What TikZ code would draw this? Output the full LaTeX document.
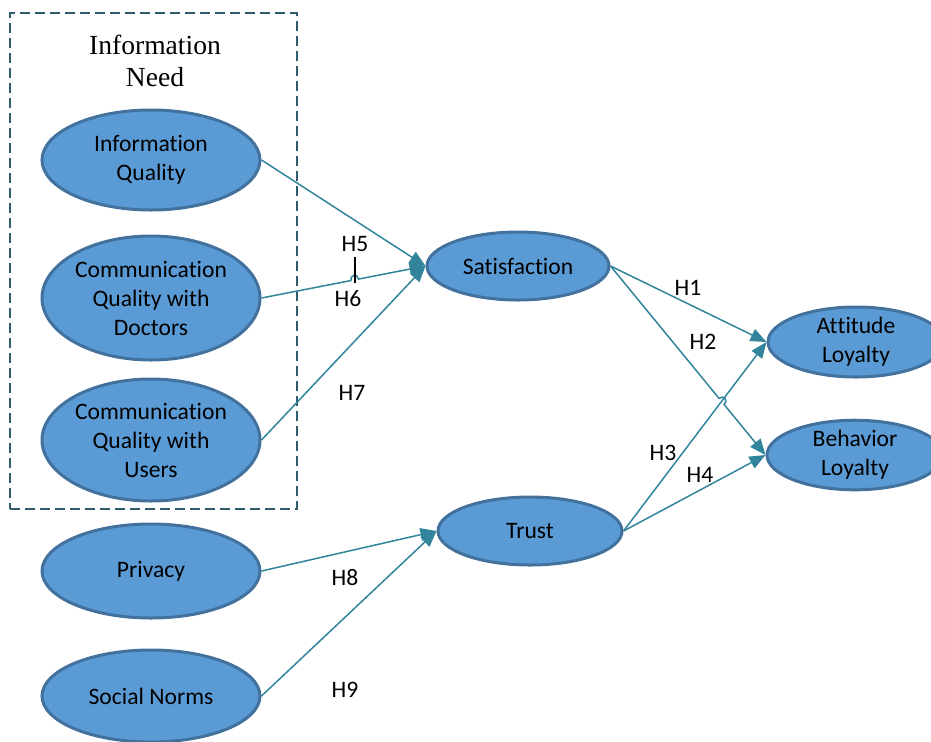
\documentclass[tikz,border=0pt]{standalone}
\usepackage{fontspec}
\setmainfont[RawFeature={-liga;-clig;-rlig;-calt;-dlig}]{Carlito}
\newfontfamily\titlefont{Liberation Serif}
\usetikzlibrary{shapes.geometric,arrows.meta,calc}
\definecolor{efill}{HTML}{5B9BD5}
\definecolor{edraw}{HTML}{41719C}
\definecolor{conn}{HTML}{31849B}
\definecolor{boxc}{HTML}{2F5B6B}
\newcommand{\nolig}{\kern0pt}
\begin{document}
\begin{tikzpicture}[x=0.5pt,y=-0.5pt,
  construct/.style={ellipse, draw=edraw, fill=efill, line width=1.5pt, inner sep=0pt, align=center,
    font=\fontsize{11.8}{14.5}\selectfont},
  hyp/.style={font=\fontsize{11.8}{13}\selectfont, inner sep=1pt},
  link/.style={draw=conn, line width=0.75pt, -{Triangle[length=8pt,width=6.5pt]}},
  tick/.style={draw=black, line width=0.75pt},
]
\useasboundingbox (0,0) rectangle (931,741);

% dashed group box and title
\node[draw=boxc, dash pattern=on 5pt off 2.5pt, line width=0.75pt,
      minimum width=143.5pt, minimum height=248pt, inner sep=0pt] (box) at (153.5,261) {};
\node[font=\titlefont\fontsize{13.8}{16}\selectfont, align=center] (title) at (155,61) {Information\\Need};

% constructs
\node[construct, minimum width=109pt, minimum height=50pt] (iq)  at (151,160) {Informat\nolig ion\\Quality};
\node[construct, minimum width=109pt, minimum height=62pt] (cqd) at (151,298) {Communicat\nolig ion\\Quality with\\Doctors};
\node[construct, minimum width=109pt, minimum height=61pt] (cqu) at (151,440) {Communicat\nolig ion\\Quality with\\Users};
\node[construct, minimum width=109pt, minimum height=47pt] (priv) at (151,571) {Privacy};
\node[construct, minimum width=109pt, minimum height=46pt] (soc) at (151,696) {Social Norms};
\node[construct, minimum width=91pt, minimum height=34pt] (sat) at (518,266) {Satisfact\nolig ion};
\node[construct, minimum width=92pt, minimum height=34pt] (trust) at (530,531) {Trust};
\node[construct, minimum width=88pt, minimum height=35pt] (att) at (856,342) {At\nolig t\nolig itude\\Loyalty};
\node[construct, minimum width=88pt, minimum height=34pt] (beh) at (855,455) {Behavior\\Loyalty};

% hop coordinates
\coordinate (h6a) at ($(cqd.east)!0.545!(sat.west)$);
\coordinate (h6b) at ($(cqd.east)!0.592!(sat.west)$);
\coordinate (h2a) at ($(sat.east)!0.700!(beh.west)$);
\coordinate (h2b) at ($(sat.east)!0.733!(beh.west)$);

% connectors
\draw[link] (iq.east) -- (sat.west);
\draw[link] (cqd.east) -- (h6a) .. controls ($(h6a)!3pt!90:(h6b)$) and ($(h6b)!3pt!-90:(h6a)$) .. (h6b) -- (sat.west);
\draw[link] (cqu.east) -- (sat.west);
\draw[link] (sat.east) -- (att.west);
\draw[link] (sat.east) -- (h2a) .. controls ($(h2a)!3pt!90:(h2b)$) and ($(h2b)!3pt!-90:(h2a)$) .. (h2b) -- (beh.west);
\draw[link] (trust.east) -- (att.west);
\draw[link] (trust.east) -- (beh.west);
\draw[link] (priv.east) -- (trust.west);
\draw[link] (soc.east) -- (trust.west);

% H5 leader tick
\coordinate (tickA) at (355,257);
\coordinate (tickB) at (355,283);
\draw[tick] (tickA) -- (tickB);

% hypothesis labels
\node[hyp] (H5) at (355,244) {H5};
\node[hyp] (H6) at (348,299) {H6};
\node[hyp] (H7) at (352,393) {H7};
\node[hyp] (H1) at (688,288) {H1};
\node[hyp] (H2) at (703,342) {H2};
\node[hyp] (H3) at (663,453) {H3};
\node[hyp] (H4) at (700,475) {H4};
\node[hyp] (H8) at (345,578) {H8};
\node[hyp] (H9) at (345,690) {H9};
\end{tikzpicture}
\end{document}
